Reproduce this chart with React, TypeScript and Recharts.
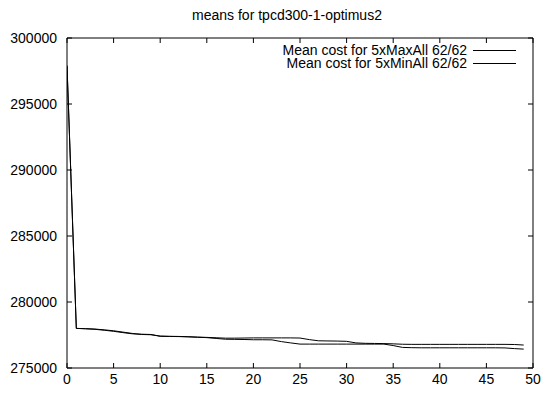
import React from "react";
import { LineChart, Line, XAxis, YAxis } from "recharts";

const iterations: number[] = Array.from({ length: 50 }, (_, i) => i);

const maxAllMeans: number[] = [
  297900, 278000, 277980, 277950, 277890, 277820, 277720, 277620, 277540, 277520,
  277420, 277400, 277390, 277370, 277340, 277320, 277290, 277260, 277260, 277270,
  277280, 277280, 277280, 277280, 277280, 277270, 277150, 277060, 277050, 277040,
  277020, 276900, 276870, 276860, 276850, 276830, 276800, 276790, 276790, 276790,
  276790, 276790, 276790, 276790, 276790, 276790, 276790, 276790, 276780, 276740,
];

const minAllMeans: number[] = [
  297900, 278000, 277970, 277930, 277860, 277780, 277680, 277590, 277560, 277540,
  277400, 277390, 277380, 277360, 277330, 277300, 277240, 277180, 277170, 277160,
  277140, 277140, 277130, 277000, 276900, 276810, 276810, 276810, 276810, 276810,
  276810, 276810, 276810, 276810, 276810, 276700, 276560, 276540, 276530, 276530,
  276530, 276530, 276530, 276530, 276530, 276530, 276530, 276520, 276470, 276430,
];

const seriesNames: string[] = [
  "Mean cost for 5xMaxAll 62/62",
  "Mean cost for 5xMinAll 62/62",
];

const xTicks: number[] = [0, 5, 10, 15, 20, 25, 30, 35, 40, 45, 50];
const yTicks: number[] = [275000, 280000, 285000, 290000, 295000, 300000];

const title = "means for tpcd300-1-optimus2";

const data = iterations.map((it, i) => ({
  it,
  maxAll: maxAllMeans[i],
  minAll: minAllMeans[i],
}));

const FONT = "'Liberation Sans', Arial, Helvetica, sans-serif";

const blank = () => <g />;

export default function App() {
  return (
    <div
      style={{
        position: "absolute",
        left: 0,
        top: 0,
        width: 545,
        height: 397,
        background: "#fff",
        fontFamily: FONT,
      }}
    >
      <div
        style={{
          position: "absolute",
          left: 287,
          top: 7,
          transform: "translateX(-50%)",
          fontSize: 14,
          whiteSpace: "nowrap",
          color: "#000",
        }}
      >
        {title}
      </div>
      <LineChart
        width={545}
        height={397}
        data={data}
        margin={{ top: 37, right: 11, bottom: 0, left: 0 }}
      >
        <XAxis
          dataKey="it"
          type="number"
          domain={[0, 50]}
          ticks={xTicks}
          interval={0}
          height={29}
          tickSize={-5}
          tickMargin={11}
          stroke="#000"
          tick={{ fill: "#000", fontSize: 14, fontFamily: FONT }}
          allowDataOverflow
        />
        <XAxis
          xAxisId="top"
          dataKey="it"
          orientation="top"
          type="number"
          domain={[0, 50]}
          ticks={xTicks}
          interval={0}
          height={1}
          tickSize={-5}
          stroke="#000"
          tick={blank}
          allowDataOverflow
        />
        <YAxis
          type="number"
          domain={[275000, 300000]}
          ticks={yTicks}
          interval={0}
          width={67}
          tickSize={-5}
          tickMargin={15}
          stroke="#000"
          tick={{ fill: "#000", fontSize: 14, fontFamily: FONT }}
          allowDataOverflow
        />
        <YAxis
          yAxisId="right"
          orientation="right"
          type="number"
          domain={[275000, 300000]}
          ticks={yTicks}
          interval={0}
          width={1}
          tickSize={-5}
          stroke="#000"
          tick={blank}
          allowDataOverflow
        />
        <Line
          dataKey="maxAll"
          name={seriesNames[0]}
          type="linear"
          stroke="#000"
          strokeWidth={1}
          dot={false}
          isAnimationActive={false}
        />
        <Line
          dataKey="minAll"
          name={seriesNames[1]}
          xAxisId="top"
          yAxisId="right"
          type="linear"
          stroke="#000"
          strokeWidth={1}
          dot={false}
          isAnimationActive={false}
        />
      </LineChart>
      <div
        style={{
          position: "absolute",
          top: 44,
          right: 29,
          fontSize: 14,
          color: "#000",
        }}
      >
        {seriesNames.map((n) => (
          <div
            key={n}
            style={{
              display: "flex",
              justifyContent: "flex-end",
              alignItems: "center",
              height: 13,
              lineHeight: "13px",
              whiteSpace: "nowrap",
            }}
          >
            <span style={{ lineHeight: "13px" }}>{n}</span>
            <div style={{ width: 43, marginLeft: 6, borderTop: "1px solid #000" }} />
          </div>
        ))}
      </div>
    </div>
  );
}
